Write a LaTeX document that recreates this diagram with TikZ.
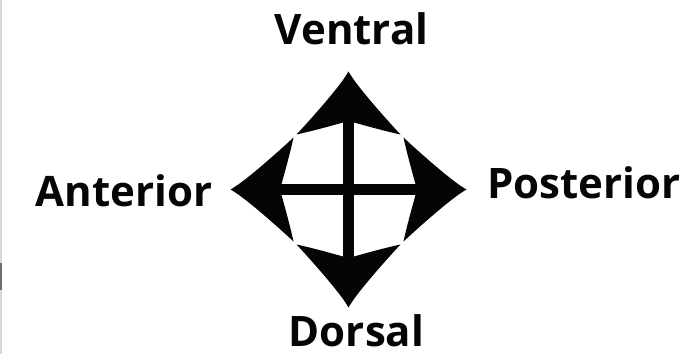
\documentclass[tikz,border=0pt]{standalone}
\usepackage{fontspec}
\setmainfont{Open Sans}
\definecolor{ink}{HTML}{050507}
\definecolor{edgegray}{HTML}{D8D8D8}
\definecolor{edgedark}{HTML}{6E6E6E}
\newcommand{\barw}{5.5}

\begin{document}
\begin{tikzpicture}[x=1pt, y=1pt,
  dirlab/.style={font=\fontsize{42}{48}\selectfont\bfseries\color{ink}, inner sep=0pt, anchor=base},
]
\useasboundingbox (0,0) rectangle (683,354);
\fill[white] (0,0) rectangle (683,354);

% ---- left border of the scan ------------------------------------------------
\draw[edgegray, line width=1.5pt] (0.75,0) -- (0.75,354);
\draw[edgedark, line width=1.5pt] (0.75,64) -- (0.75,91);

% ---- compass: cross and four curved arrowheads ------------------------------
\coordinate (hub) at (348.5,164.5);
\begin{scope}[shift={(hub)}]
  \fill[ink] (-\barw,-70) rectangle (\barw,70);
  \fill[ink] (-70,-\barw) rectangle (70,\barw);
  \foreach \ang in {0,90,180,270} {
    \fill[ink, rotate=\ang] (0,118)
      .. controls (-8,103) and (-44,63.5) .. (-52,55)
      .. controls (-36,58.5) and (-18,63.5) .. (-\barw,67) -- (\barw,67)
      .. controls (18,63.5) and (36,58.5) .. (52,55)
      .. controls (44,63.5) and (8,103) .. cycle;
  }
\end{scope}

% ---- direction labels -------------------------------------------------------
\node[dirlab] (ventral) at (351.5,309) {Ventral};
\node[dirlab] (dorsal) at (356.5,7.5) {Dorsal};
\node[dirlab] (anterior) at (124,147.3) {Anterior};
\node[dirlab] (posterior) at (584,155.7) {Posterior};

\end{tikzpicture}
\end{document}
